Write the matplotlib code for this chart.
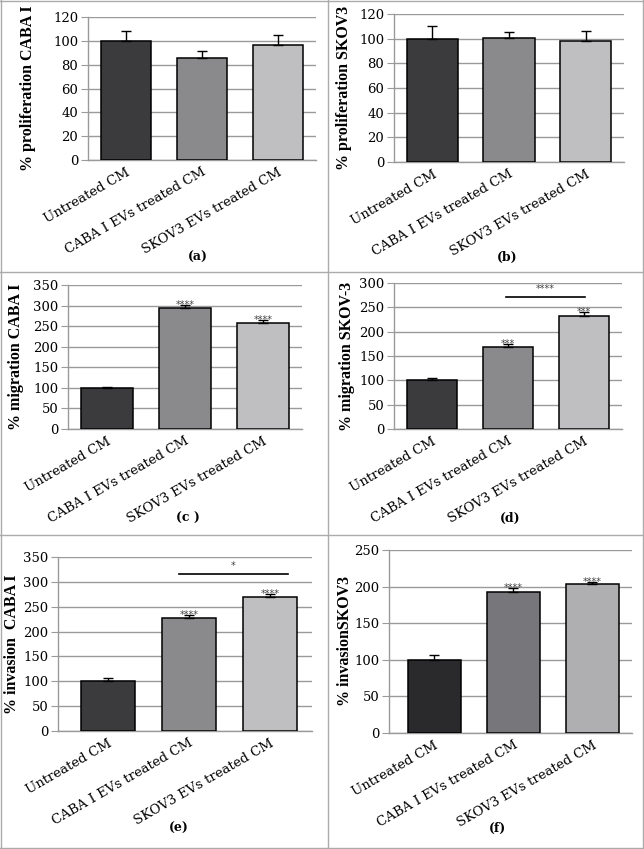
import matplotlib
matplotlib.use("Agg")
import matplotlib.pyplot as plt
from matplotlib.lines import Line2D
import numpy as np

W, H = 644, 849

categories = ["Untreated CM", "CABA I EVs treated CM", "SKOV3 EVs treated CM"]

prolif_caba = [100, 85.7, 96.3]
prolif_caba_err = [8, 5.6, 9]
prolif_skov = [100, 100.3, 98.5]
prolif_skov_err = [10, 5, 8]
migr_caba = [100, 293.5, 258]
migr_caba_err = [1, 8, 6]
migr_skov = [101, 169, 233]
migr_skov_err = [3.5, 6, 7]
inv_caba = [100, 227.5, 270.5]
inv_caba_err = [7, 5, 5]
inv_skov = [99.5, 192, 203.5]
inv_skov_err = [7, 6, 3]

stars_a = ["", "", ""]
stars_b = ["", "", ""]
stars_c = ["", "****", "****"]
stars_d = ["", "***", "***"]
stars_e = ["", "****", "****"]
stars_f = ["", "****", "****"]

ylabels = ["% proliferation CABA I", "% proliferation SKOV3", "% migration CABA I",
           "% migration SKOV-3", "% invasion  CABA I", "% invasionSKOV3"]
panel_labels = ["(a)", "(b)", "(c )", "(d)", "(e)", "(f)"]

colors_main = ["#3b3b3d", "#8a8a8c", "#bfbfc1"]
colors_f = ["#2a2a2c", "#77777b", "#afafb1"]

fig = plt.figure(figsize=(W / 100, H / 100), dpi=100)
fig.patch.set_facecolor("white")

TICKFONT = dict(family="DejaVu Serif", size=9.5)
LABELFONT = dict(family="Liberation Serif", size=11.5, weight="bold")

# (values, errs, stars, ylabel, panel label, box px (l, r, top, bottom), ymax, ystep, xlim,
#  ylabel centre x px, panel label pos px, colors, bracket)
panels = [
    (prolif_caba, prolif_caba_err, stars_a, ylabels[0], panel_labels[0], (88, 316, 17, 160), 120, 20, (-0.5, 2.5), 28, (198, 257), colors_main, None),
    (prolif_skov, prolif_skov_err, stars_b, ylabels[1], panel_labels[1], (394, 624, 14, 162), 120, 20, (-0.5, 2.5), 344, (507, 257), colors_main, None),
    (migr_caba, migr_caba_err, stars_c, ylabels[2], panel_labels[2], (68, 302, 285, 429), 350, 50, (-0.5, 2.5), 16, (188, 518), colors_main, None),
    (migr_skov, migr_skov_err, stars_d, ylabels[3], panel_labels[3], (394, 622, 283, 429), 300, 50, (-0.5, 2.5), 347, (510, 518), colors_main, (0.97, 2.01, 271, "****")),
    (inv_caba, inv_caba_err, stars_e, ylabels[4], panel_labels[4], (58, 312, 557, 731), 350, 50, (-0.617, 2.52), 12, (179, 828), colors_main, (0.88, 2.22, 316, "*")),
    (inv_skov, inv_skov_err, stars_f, ylabels[5], panel_labels[5], (389, 632, 550, 733), 250, 50, (-0.57, 2.5), 345, (498, 828), colors_f, None),
]

for (vals, errs, stars, ylab, plab, box, ymax, ystep, xlim, ylx, plpos, cols, bracket) in panels:
    l, r, t, b = box
    ax = fig.add_axes([l / W, 1 - b / H, (r - l) / W, (b - t) / H])
    x = np.arange(len(categories))
    ax.bar(x, vals, width=0.67, color=cols, edgecolor="black", linewidth=1.1, zorder=3)
    ax.errorbar(x, vals, yerr=[np.zeros(len(vals)), errs], fmt="none", ecolor="black",
                elinewidth=1.0, capsize=3.5, capthick=1.0, zorder=4)
    for xi, v, e, s in zip(x, vals, errs, stars):
        if s:
            ax.text(xi, v + e, s, ha="center", va="center", fontsize=7,
                    family="DejaVu Sans", color="#444444", zorder=5)
    if bracket is not None:
        x0, x1, yb, s = bracket
        ax.plot([x0, x1], [yb, yb], color="black", lw=1.2, zorder=5)
        ax.text((x0 + x1) / 2, yb + ymax * 0.018, s, ha="center", va="bottom",
                fontsize=7, family="DejaVu Sans", color="#444444")
    ax.set_xlim(*xlim)
    ax.set_ylim(0, ymax)
    ax.set_yticks(np.arange(0, ymax + 1, ystep))
    ax.yaxis.grid(True, color="#9a9a9a", linewidth=1.0, zorder=0)
    ax.set_axisbelow(True)
    for sp in ["top", "right"]:
        ax.spines[sp].set_visible(False)
    ax.spines["left"].set_color("#9a9a9a")
    ax.spines["bottom"].set_color("#9a9a9a")
    ax.spines["left"].set_linewidth(1.0)
    ax.spines["bottom"].set_linewidth(1.0)
    ax.tick_params(axis="y", direction="out", length=5, color="#9a9a9a", pad=2)
    ax.tick_params(axis="x", length=0, pad=4)
    ax.set_xticks(x)
    ax.set_xticklabels(categories, rotation=30, ha="right", rotation_mode="anchor",
                       fontdict=TICKFONT)
    for lbl in ax.get_yticklabels():
        lbl.set_fontfamily("DejaVu Serif")
        lbl.set_fontsize(9.5)
    ax.set_ylabel(ylab, fontdict=LABELFONT)
    # label anchor is its right edge (rotated text bottom); shift by half the text height
    ax.yaxis.set_label_coords((ylx + 8 - l) / (r - l), 0.5)
    fig.text(plpos[0] / W, 1 - plpos[1] / H, plab, ha="center", va="center",
             fontsize=9, fontweight="bold", family="DejaVu Serif")

# table frame
fc = "#ababab"
for yy in [1, 272, 535, 847.5]:
    fig.add_artist(Line2D([0, 1], [1 - yy / H, 1 - yy / H], color=fc, lw=1.0))
for xx in [1, 328, 642.5]:
    fig.add_artist(Line2D([xx / W, xx / W], [0, 1], color=fc, lw=1.0))

fig.savefig("out.png", dpi=100)
